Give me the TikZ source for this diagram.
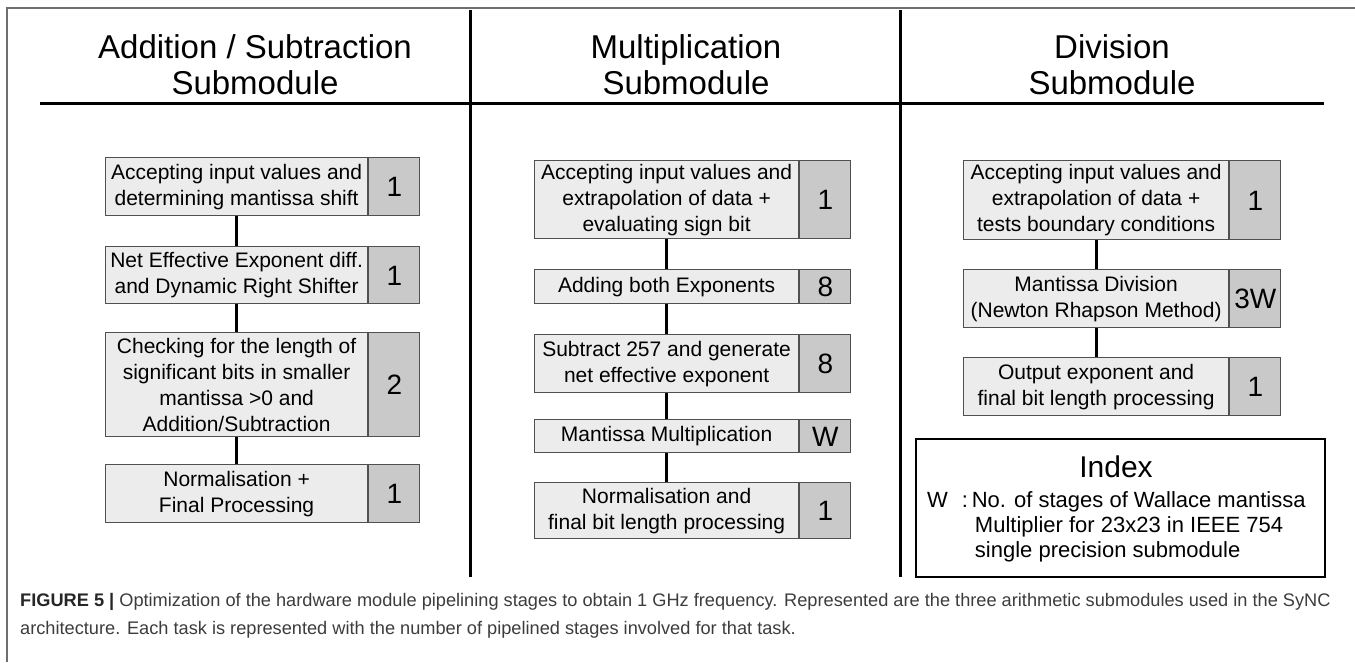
\documentclass[tikz,border=0pt]{standalone}
\usepackage{fontspec}
\setmainfont{Liberation Sans}
\usetikzlibrary{positioning}
\definecolor{taskgray}{RGB}{236,236,236}
\definecolor{stagegray}{RGB}{201,201,201}
\definecolor{edgegray}{RGB}{80,80,80}
\definecolor{capgray}{RGB}{60,60,60}
\definecolor{framegray}{RGB}{110,110,110}

\tikzset{
  task/.style={draw=edgegray, fill=taskgray, line width=1.2pt, align=center,
    inner sep=0pt, anchor=north west, font=\fontsize{21}{26}\selectfont},
  stage/.style={draw=edgegray, fill=stagegray, line width=1.2pt, inner sep=0pt,
    minimum width=51pt, text height=20pt, text depth=0pt,
    font=\fontsize{28}{28}\selectfont},
  tasklink/.style={line width=3pt},
  header/.style={align=center, font=\fontsize{33}{36}\selectfont},
}

\begin{document}
\begin{tikzpicture}[x=1pt,y=-1pt]
  \useasboundingbox (0,0) rectangle (1355,662);
  % frame (top and left edge only)
  \draw[framegray, line width=1.5pt] (7,662) -- (7,8) -- (1355,8);

  % column headers and rules
  \node[header] (hadd) at (255,65) {Addition / Subtraction\\Submodule};
  \node[header] (hmul) at (686,65) {Multiplication\\Submodule};
  \node[header] (hdiv) at (1112,65) {Division\\Submodule};
  \draw[line width=3pt] (40,103) -- (1324,103);
  \draw[line width=3pt] (470,10) -- (470,577);
  \draw[line width=3pt] (900,10) -- (900,577);

  % addition / subtraction
  \node[task, minimum width=262pt, minimum height=58pt] (a1) at (105,157)
    {Accepting input values and\\determining mantissa shift};
  \node[stage, minimum height=58pt, right=0pt of a1] (s1) {1};
  \node[task, minimum width=262pt, minimum height=57pt] (a2) at (105,246)
    {Net Effective Exponent diff.\\and Dynamic Right Shifter};
  \node[stage, minimum height=57pt, right=0pt of a2] (s2) {1};
  \node[task, minimum width=262pt, minimum height=104pt] (a3) at (105,332)
    {Checking for the length of\\significant bits in smaller\\mantissa >0 and\\Addition/Subtraction};
  \node[stage, minimum height=104pt, right=0pt of a3] (s3) {2};
  \node[task, minimum width=262pt, minimum height=58pt] (a4) at (105,464)
    {Normalisation +\\Final Processing};
  \node[stage, minimum height=58pt, right=0pt of a4] (s4) {1};
  \draw[tasklink] (a1) -- (a2);
  \draw[tasklink] (a2) -- (a3);
  \draw[tasklink] (a3) -- (a4);

  % multiplication
  \node[task, minimum width=264pt, minimum height=78pt] (m1) at (534,160)
    {Accepting input values and\\extrapolation of data +\\evaluating sign bit};
  \node[stage, minimum height=78pt, right=0pt of m1] (t1) {1};
  \node[task, minimum width=264pt, minimum height=34pt] (m2) at (534,269)
    {Adding both Exponents};
  \node[stage, minimum height=34pt, right=0pt of m2] (t2) {8};
  \node[task, minimum width=264pt, minimum height=58pt] (m3) at (534,334)
    {Subtract 257 and generate\\net effective exponent};
  \node[stage, minimum height=58pt, right=0pt of m3] (t3) {8};
  \node[task, minimum width=264pt, minimum height=33pt] (m4) at (534,419)
    {Mantissa Multiplication};
  \node[stage, minimum height=33pt, right=0pt of m4] (t4) {W};
  \node[task, minimum width=264pt, minimum height=56pt] (m5) at (534,482)
    {Normalisation and\\final bit length processing};
  \node[stage, minimum height=56pt, right=0pt of m5] (t5) {1};
  \draw[tasklink] (m1) -- (m2);
  \draw[tasklink] (m2) -- (m3);
  \draw[tasklink] (m3) -- (m4);
  \draw[tasklink] (m4) -- (m5);

  % division
  \node[task, minimum width=265pt, minimum height=79pt] (d1) at (963,160)
    {Accepting input values and\\extrapolation of data +\\tests boundary conditions};
  \node[stage, minimum height=79pt, right=0pt of d1] (u1) {1};
  \node[task, minimum width=265pt, minimum height=58pt] (d2) at (963,269)
    {Mantissa Division\\(Newton Rhapson Method)};
  \node[stage, minimum height=58pt, right=0pt of d2] (u2) {3W};
  \node[task, minimum width=265pt, minimum height=58pt] (d3) at (963,357)
    {Output exponent and\\final bit length processing};
  \node[stage, minimum height=58pt, right=0pt of d3] (u3) {1};
  \draw[tasklink] (d1) -- (d2);
  \draw[tasklink] (d2) -- (d3);

  % index
  \node[draw, line width=2pt, minimum width=409pt, minimum height=138pt,
    anchor=north west] (index) at (915,438) {};
  \node[font=\fontsize{30}{30}\selectfont] (idxtitle) at (1116,467) {Index};
  \node[anchor=north west, inner sep=0pt, font=\fontsize{22}{25}\selectfont]
    (idxtext) at (927,490)
    {\begin{tabular}{@{}l@{\hspace{14pt}}l@{}}
       W & :\,No. of stages of Wallace mantissa\\
         & \hspace*{13pt}Multiplier for 23x23 in IEEE 754\\
         & \hspace*{13pt}single precision submodule
     \end{tabular}};

  % caption
  \node[anchor=north west, inner sep=0pt, align=left, text=capgray,
    font=\fontsize{18.2}{28}\selectfont] (caption) at (20,593)
    {{\color{black!85}\textbf{FIGURE 5 |}} Optimization of the hardware module pipelining stages to obtain 1 GHz frequency. Represented are the three arithmetic submodules used in the SyNC\\
     architecture. Each task is represented with the number of pipelined stages involved for that task.};
\end{tikzpicture}
\end{document}
